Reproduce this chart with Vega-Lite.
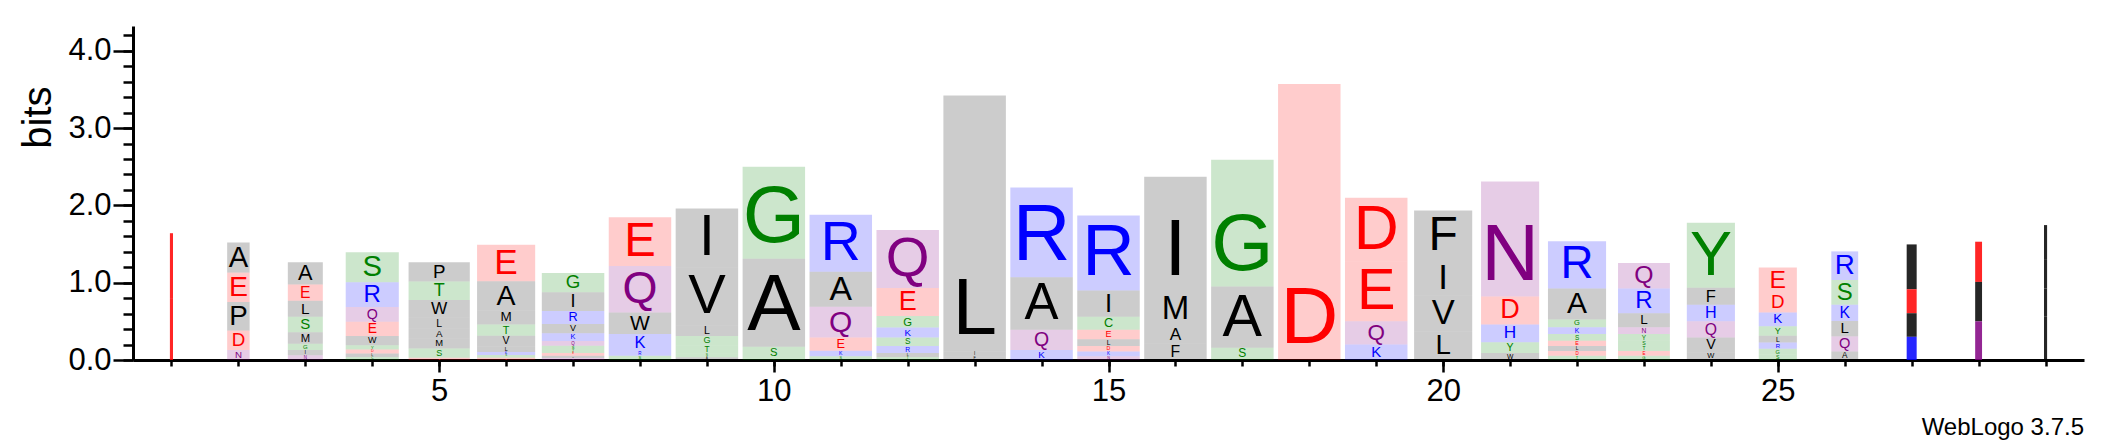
{
"$schema": "https://vega.github.io/schema/vega-lite/v6.json",
"width": 1951, "height": 334,
"autosize": "none",
"padding": {"left": 133, "top": 26, "right": 21, "bottom": 84},
"background": "white",
"title": {"text": "WebLogo 3.7.5", "orient": "bottom", "anchor": "end", "fontSize": 24, "fontWeight": "normal", "font": "Liberation Sans", "color": "black", "offset": 10},
"config": {"view": {"stroke": null}, "font": "Liberation Sans",
  "axis": {"grid": false, "domainColor": "black", "tickColor": "black", "labelColor": "black", "titleColor": "black", "labelFont": "Liberation Sans", "titleFont": "Liberation Sans"}},
"data": {"values": [
{"p":1,"l":"E","b":0.85,"w":0.05},{"p":1,"l":"D","b":0.79,"w":0.05},
{"p":2,"l":"A","b":0.39,"w":0.36},{"p":2,"l":"E","b":0.38,"w":0.36},{"p":2,"l":"P","b":0.37,"w":0.36},{"p":2,"l":"D","b":0.25,"w":0.36},{"p":2,"l":"N","b":0.13,"w":0.36},
{"p":3,"l":"A","b":0.29,"w":0.56},{"p":3,"l":"E","b":0.21,"w":0.56},{"p":3,"l":"L","b":0.205,"w":0.56},{"p":3,"l":"S","b":0.2,"w":0.56},{"p":3,"l":"M","b":0.15,"w":0.56},{"p":3,"l":"G","b":0.08,"w":0.56},{"p":3,"l":"I","b":0.07,"w":0.56},{"p":3,"l":"N","b":0.06,"w":0.56},
{"p":4,"l":"S","b":0.39,"w":0.85},{"p":4,"l":"R","b":0.32,"w":0.85},{"p":4,"l":"Q","b":0.19,"w":0.85},{"p":4,"l":"E","b":0.185,"w":0.85},{"p":4,"l":"W","b":0.12,"w":0.85},{"p":4,"l":"Y","b":0.055,"w":0.85},{"p":4,"l":"D","b":0.05,"w":0.85},{"p":4,"l":"L","b":0.045,"w":0.85},{"p":4,"l":"C","b":0.04,"w":0.85},
{"p":5,"l":"P","b":0.25,"w":0.98},{"p":5,"l":"T","b":0.24,"w":0.98},{"p":5,"l":"W","b":0.23,"w":0.98},{"p":5,"l":"L","b":0.14,"w":0.98},{"p":5,"l":"A","b":0.13,"w":0.98},{"p":5,"l":"M","b":0.125,"w":0.98},{"p":5,"l":"S","b":0.12,"w":0.98},{"p":5,"l":"E","b":0.03,"w":0.98},
{"p":6,"l":"E","b":0.47,"w":0.93},{"p":6,"l":"A","b":0.38,"w":0.93},{"p":6,"l":"M","b":0.18,"w":0.93},{"p":6,"l":"T","b":0.145,"w":0.93},{"p":6,"l":"V","b":0.14,"w":0.93},{"p":6,"l":"L","b":0.07,"w":0.93},{"p":6,"l":"K","b":0.04,"w":0.93},{"p":6,"l":"S","b":0.035,"w":0.93},{"p":6,"l":"D","b":0.03,"w":0.93},
{"p":7,"l":"G","b":0.25,"w":1},{"p":7,"l":"I","b":0.24,"w":1},{"p":7,"l":"R","b":0.17,"w":1},{"p":7,"l":"V","b":0.12,"w":1},{"p":7,"l":"K","b":0.1,"w":1},{"p":7,"l":"Q","b":0.06,"w":1},{"p":7,"l":"S","b":0.055,"w":1},{"p":7,"l":"T","b":0.04,"w":1},{"p":7,"l":"E","b":0.035,"w":1},{"p":7,"l":"L","b":0.03,"w":1},{"p":7,"l":"N","b":0.025,"w":1},
{"p":8,"l":"E","b":0.63,"w":1},{"p":8,"l":"Q","b":0.6,"w":1},{"p":8,"l":"W","b":0.28,"w":1},{"p":8,"l":"K","b":0.22,"w":1},{"p":8,"l":"R","b":0.06,"w":1},{"p":8,"l":"S","b":0.055,"w":1},
{"p":9,"l":"I","b":0.76,"w":1},{"p":9,"l":"V","b":0.75,"w":1},{"p":9,"l":"L","b":0.14,"w":1},{"p":9,"l":"G","b":0.12,"w":1},{"p":9,"l":"T","b":0.11,"w":1},{"p":9,"l":"S","b":0.045,"w":1},{"p":9,"l":"A","b":0.035,"w":1},
{"p":10,"l":"G","b":1.19,"w":1},{"p":10,"l":"A","b":1.14,"w":1},{"p":10,"l":"S","b":0.15,"w":1},{"p":10,"l":"T","b":0.02,"w":1},
{"p":11,"l":"R","b":0.74,"w":1},{"p":11,"l":"A","b":0.45,"w":1},{"p":11,"l":"Q","b":0.4,"w":1},{"p":11,"l":"E","b":0.17,"w":1},{"p":11,"l":"K","b":0.07,"w":1},{"p":11,"l":"S","b":0.05,"w":1},
{"p":12,"l":"Q","b":0.75,"w":1},{"p":12,"l":"E","b":0.36,"w":1},{"p":12,"l":"G","b":0.15,"w":1},{"p":12,"l":"K","b":0.13,"w":1},{"p":12,"l":"S","b":0.11,"w":1},{"p":12,"l":"R","b":0.09,"w":1},{"p":12,"l":"L","b":0.05,"w":1},{"p":12,"l":"T","b":0.04,"w":1},
{"p":13,"l":"L","b":3.31,"w":1},{"p":13,"l":"I","b":0.06,"w":1},{"p":13,"l":"F","b":0.05,"w":1},
{"p":14,"l":"R","b":1.16,"w":1},{"p":14,"l":"A","b":0.68,"w":1},{"p":14,"l":"Q","b":0.26,"w":1},{"p":14,"l":"K","b":0.13,"w":1},
{"p":15,"l":"R","b":0.97,"w":1},{"p":15,"l":"I","b":0.34,"w":1},{"p":15,"l":"C","b":0.17,"w":1},{"p":15,"l":"E","b":0.12,"w":1},{"p":15,"l":"L","b":0.09,"w":1},{"p":15,"l":"D","b":0.07,"w":1},{"p":15,"l":"K","b":0.06,"w":1},{"p":15,"l":"N","b":0.05,"w":1},
{"p":16,"l":"I","b":1.49,"w":1},{"p":16,"l":"M","b":0.44,"w":1},{"p":16,"l":"A","b":0.23,"w":1},{"p":16,"l":"F","b":0.21,"w":1},
{"p":17,"l":"G","b":1.64,"w":1},{"p":17,"l":"A","b":0.79,"w":1},{"p":17,"l":"S","b":0.16,"w":1},
{"p":18,"l":"D","b":3.57,"w":1},
{"p":19,"l":"D","b":0.83,"w":1},{"p":19,"l":"E","b":0.77,"w":1},{"p":19,"l":"Q","b":0.3,"w":1},{"p":19,"l":"K","b":0.2,"w":1},
{"p":20,"l":"F","b":0.64,"w":0.93},{"p":20,"l":"I","b":0.465,"w":0.93},{"p":20,"l":"V","b":0.46,"w":0.93},{"p":20,"l":"L","b":0.37,"w":0.93},
{"p":21,"l":"N","b":1.49,"w":0.93},{"p":21,"l":"D","b":0.36,"w":0.93},{"p":21,"l":"H","b":0.23,"w":0.93},{"p":21,"l":"Y","b":0.14,"w":0.93},{"p":21,"l":"W","b":0.09,"w":0.93},
{"p":22,"l":"R","b":0.61,"w":0.93},{"p":22,"l":"A","b":0.4,"w":0.93},{"p":22,"l":"G","b":0.1,"w":0.93},{"p":22,"l":"K","b":0.09,"w":0.93},{"p":22,"l":"S","b":0.085,"w":0.93},{"p":22,"l":"E","b":0.07,"w":0.93},{"p":22,"l":"L","b":0.065,"w":0.93},{"p":22,"l":"D","b":0.06,"w":0.93},{"p":22,"l":"T","b":0.055,"w":0.93},
{"p":23,"l":"Q","b":0.33,"w":0.83},{"p":23,"l":"R","b":0.32,"w":0.83},{"p":23,"l":"L","b":0.18,"w":0.83},{"p":23,"l":"N","b":0.09,"w":0.83},{"p":23,"l":"Y","b":0.085,"w":0.83},{"p":23,"l":"S","b":0.07,"w":0.83},{"p":23,"l":"T","b":0.065,"w":0.83},{"p":23,"l":"E","b":0.06,"w":0.83},{"p":23,"l":"G","b":0.055,"w":0.83},
{"p":24,"l":"Y","b":0.84,"w":0.77},{"p":24,"l":"F","b":0.22,"w":0.77},{"p":24,"l":"H","b":0.215,"w":0.77},{"p":24,"l":"Q","b":0.21,"w":0.77},{"p":24,"l":"V","b":0.19,"w":0.77},{"p":24,"l":"W","b":0.1,"w":0.77},
{"p":25,"l":"E","b":0.33,"w":0.61},{"p":25,"l":"D","b":0.25,"w":0.61},{"p":25,"l":"K","b":0.18,"w":0.61},{"p":25,"l":"Y","b":0.12,"w":0.61},{"p":25,"l":"L","b":0.09,"w":0.61},{"p":25,"l":"R","b":0.08,"w":0.61},{"p":25,"l":"G","b":0.075,"w":0.61},{"p":25,"l":"S","b":0.07,"w":0.61},
{"p":26,"l":"R","b":0.37,"w":0.43},{"p":26,"l":"S","b":0.32,"w":0.43},{"p":26,"l":"K","b":0.21,"w":0.43},{"p":26,"l":"L","b":0.2,"w":0.43},{"p":26,"l":"Q","b":0.195,"w":0.43},{"p":26,"l":"A","b":0.11,"w":0.43},
{"p":27,"l":"L","b":0.58,"w":0.16},{"p":27,"l":"E","b":0.31,"w":0.16},{"p":27,"l":"P","b":0.305,"w":0.16},{"p":27,"l":"R","b":0.3,"w":0.16},
{"p":28,"l":"D","b":0.52,"w":0.11},{"p":28,"l":"W","b":0.51,"w":0.11},{"p":28,"l":"N","b":0.5,"w":0.11},
{"p":29,"l":"W","b":0.45,"w":0.05},{"p":29,"l":"L","b":0.37,"w":0.05},{"p":29,"l":"I","b":0.365,"w":0.05},{"p":29,"l":"V","b":0.34,"w":0.05},{"p":29,"l":"A","b":0.22,"w":0.05}
]},
"transform": [{"stack": "b", "groupby": ["p"], "sort": [{"field": "b", "order": "ascending"}], "as": ["y0", "y1"]}],
"layer": [
 {"transform": [{"filter": "datum.w >= 0.3"}],
  "mark": {"type": "bar", "opacity": 0.2},
  "encoding": {
   "x": {"field": "p", "type": "quantitative", "scale": {"domain": [0.5, 29.5], "nice": false, "zero": false},
         "axis": {"orient": "bottom", "values": [1,2,3,4,5,6,7,8,9,10,11,12,13,14,15,16,17,18,19,20,21,22,23,24,25,26,27,28,29], "labels": false, "tickSize": 6, "tickWidth": 2.5, "domainWidth": 3, "title": null}},
   "y": {"field": "y0", "type": "quantitative", "scale": {"domain": [0, 4.32], "nice": false},
         "axis": {"orient": "left", "values": [0,0.2,0.4,0.6,0.8,1,1.2,1.4,1.6,1.8,2,2.2,2.4,2.6,2.8,3,3.2,3.4,3.6,3.8,4,4.2], "labels": false, "tickSize": 10, "tickWidth": 2.5, "domainWidth": 3, "title": null}},
   "y2": {"field": "y1"},
   "size": {"field": "w", "type": "quantitative", "scale": {"domain": [0, 1], "range": [0, 62.5]}, "legend": null},
   "color": {"field": "l", "type": "nominal", "legend": null,
     "scale": {"domain": ["A","V","L","I","P","W","F","M","G","S","T","Y","C","K","R","H","D","E","N","Q"],
               "range": ["black","black","black","black","black","black","black","black","green","green","green","green","green","blue","blue","blue","red","red","purple","purple"]}}
  }},
 {"transform": [{"filter": "datum.w < 0.3"}],
  "mark": {"type": "bar", "opacity": 0.85},
  "encoding": {
   "x": {"field": "p", "type": "quantitative", "axis": null},
   "y": {"field": "y0", "type": "quantitative", "axis": null},
   "y2": {"field": "y1"},
   "size": {"field": "w", "type": "quantitative", "scale": {"domain": [0, 1], "range": [0, 62.5]}, "legend": null},
   "color": {"field": "l", "type": "nominal", "legend": null}
  }},
 {"transform": [{"filter": "datum.w >= 0.3"}],
  "mark": {"type": "text", "align": "center", "baseline": "bottom", "font": "Liberation Sans"},
  "encoding": {
   "x": {"field": "p", "type": "quantitative",
         "axis": {"orient": "bottom", "values": [5,10,15,20,25], "tickSize": 12, "tickWidth": 2.5, "domain": false, "labelFontSize": 31, "labelPadding": 4, "labelFlush": false, "title": null}},
   "y": {"field": "y0", "type": "quantitative",
         "axis": {"orient": "left", "values": [0,1,2,3,4], "format": ".1f", "tickSize": 20, "tickWidth": 2.5, "domain": false, "labelFontSize": 31, "labelPadding": 2, "labelFlush": false,
                  "title": "bits", "titleFontSize": 40, "titleFontWeight": "normal", "titleAngle": 270, "titleX": -83, "titleY": 91, "titleAlign": "center", "titleBaseline": "alphabetic"}},
   "text": {"field": "l"},
   "size": {"field": "b", "type": "quantitative", "scale": {"type": "linear", "domain": [0, 1.067], "range": [0, 80], "clamp": true}, "legend": null},
   "color": {"field": "l", "type": "nominal", "legend": null}
  }}
],
"resolve": {"scale": {"size": "independent"}, "axis": {"x": "independent", "y": "independent"}}
}
